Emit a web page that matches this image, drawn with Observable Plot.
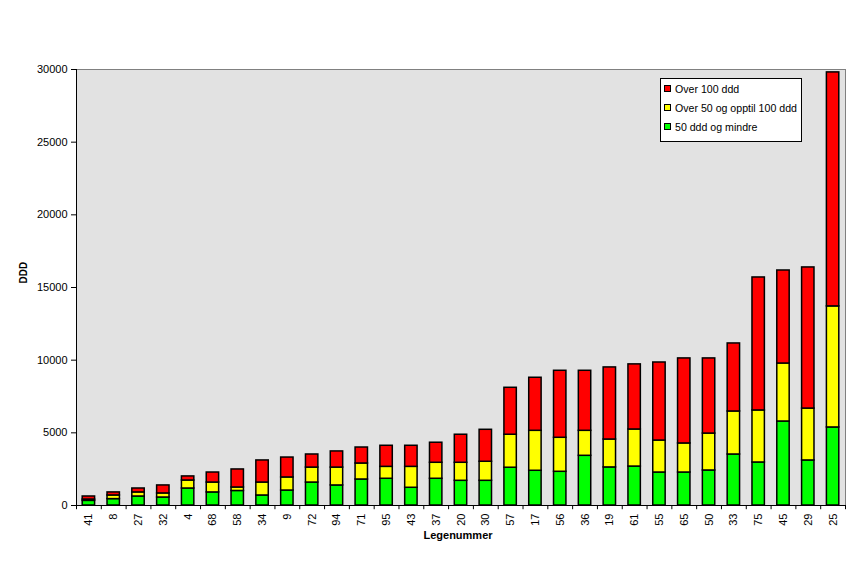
<!DOCTYPE html>
<html><head><meta charset="utf-8">
<script src="https://cdn.jsdelivr.net/npm/d3@7"></script>
<script src="https://cdn.jsdelivr.net/npm/@observablehq/plot@0.6"></script>
<style>
body{margin:0;background:#fff;font-family:"Liberation Sans",Arial,sans-serif;}
#wrap{position:relative;width:859px;height:562px;}
#legend{position:absolute;left:660px;top:78px;width:142px;height:64px;background:#fff;border:1px solid #000;box-sizing:border-box;font-size:10.6px;color:#000;}
.item{position:absolute;left:3px;height:13px;display:flex;align-items:center;white-space:nowrap;}
.sw{width:5px;height:5px;border:1px solid #000;margin-right:4px;}
</style></head><body>
<div id="wrap"></div>
<script>
const categories = ["41","8","27","32","4","68","58","34","9","72","94","71","95","43","37","20","30","57","17","56","36","19","61","55","65","50","33","75","45","29","25"];
const green  = [320,440,620,550,1170,900,1000,690,1030,1580,1380,1790,1840,1220,1840,1700,1700,2600,2390,2320,3420,2620,2680,2270,2270,2410,3510,2960,5780,3100,5370];
const yellow = [90,250,280,280,550,680,240,890,900,1030,1230,1100,820,1440,1100,1240,1310,2270,2750,2340,1720,1920,2550,2200,2000,2540,2960,3580,3990,3570,8330];
const red    = [210,210,270,550,280,690,1240,1520,1370,900,1110,1100,1450,1450,1380,1930,2200,3230,3650,4610,4130,4960,4480,5370,5850,5170,4680,9150,6400,9710,16100];
const seriesNames = ["50 ddd og mindre","Over 50 og opptil 100 ddd","Over 100 ddd"];
const seriesColors = ["#00ff00","#ffff00","#ff0000"];
const yTicks = [0,5000,10000,15000,20000,25000,30000];
const legendOrder = ["Over 100 ddd","Over 50 og opptil 100 ddd","50 ddd og mindre"];

const seriesValues = [green, yellow, red];
const rows = [];
categories.forEach((c, i) => {
  seriesNames.forEach((s, j) => rows.push({cat: c, series: s, value: seriesValues[j][i]}));
});

const W = 859, H = 562, mL = 76, mR = 14, mT = 69, mB = 57;
const half = (W - mL - mR) / categories.length / 2;

const chart = Plot.plot({
  width: W, height: H,
  marginLeft: mL, marginRight: mR, marginTop: mT, marginBottom: mB,
  style: {fontFamily: "'Liberation Sans', Arial, sans-serif", fontSize: "11px", background: "white", color: "black"},
  x: {domain: categories, paddingInner: 0.5, paddingOuter: 0.25, round: false, label: null},
  y: {domain: [0, 30000], label: null},
  color: {domain: seriesNames, range: seriesColors},
  marks: [
    Plot.frame({fill: "#e2e2e2"}),
    Plot.ruleY([30000], {stroke: "#808080"}),
    Plot.ruleX([categories[categories.length - 1]], {dx: half, stroke: "#808080"}),
    Plot.barY(rows, {x: "cat", y: "value", fill: "series", stroke: "black", strokeWidth: 1.5}),
    Plot.ruleY([0], {stroke: "black"}),
    Plot.ruleX([categories[0]], {dx: -half, stroke: "black"}),
    Plot.ruleX(categories, {dx: half, y1: 0, y2: -290, stroke: "black"}),
    Plot.ruleX([categories[0]], {dx: -half, y1: 0, y2: -290, stroke: "black"}),
    Plot.axisY({ticks: yTicks, tickSize: 5, tickPadding: 4, tickFormat: d3.format("d"), label: null}),
    Plot.axisX({tickSize: 0, tickRotate: -90, tickPadding: 8, label: null}),
    Plot.text(["Legenummer"], {frameAnchor: "bottom", dy: 33, dx: -3, fontWeight: "bold", fontSize: 11}),
    Plot.text(["DDD"], {frameAnchor: "left", dx: -53, dy: -4, rotate: -90, fontWeight: "bold", fontSize: 10})
  ]
});
const wrap = document.getElementById("wrap");
wrap.appendChild(chart);

const legend = document.createElement("div");
legend.id = "legend";
legendOrder.forEach((name, k) => {
  const item = document.createElement("div");
  item.className = "item";
  item.style.top = (3 + k * 19) + "px";
  const sw = document.createElement("span");
  sw.className = "sw";
  sw.style.background = seriesColors[seriesNames.indexOf(name)];
  item.appendChild(sw);
  item.appendChild(document.createTextNode(name));
  legend.appendChild(item);
});
wrap.appendChild(legend);
</script>
</body></html>
